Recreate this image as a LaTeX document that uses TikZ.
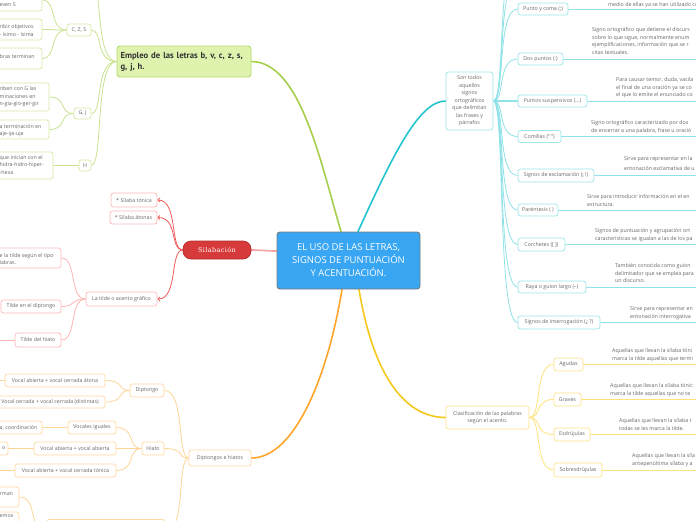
\documentclass[tikz,border=0pt]{standalone}
\usepackage{fontspec}
\setmainfont{Open Sans}
\newfontfamily\silfont{DejaVu Serif}[LetterSpace=6]
\newfontfamily\headfont{PT Sans}
\usetikzlibrary{arrows.meta}
\pgfdeclarelayer{back}
\pgfdeclarelayer{bg}
\pgfsetlayers{back,bg,main}
\definecolor{txt}{HTML}{666666}
\definecolor{gMain}{HTML}{A5CF4C}
\definecolor{gLink}{HTML}{C8E38F}
\definecolor{gBord}{HTML}{D4EBA5}
\definecolor{gFill}{HTML}{DFF3AE}
\definecolor{gFBord}{HTML}{B6DB6E}
\definecolor{rMain}{HTML}{F7A3A3}
\definecolor{rLink}{HTML}{F25A5A}
\definecolor{rLinkB}{HTML}{FFB5B5}
\definecolor{rBord}{HTML}{FFB9B9}
\definecolor{rFill}{HTML}{D63A3A}
\definecolor{rFBord}{HTML}{B32E2E}
\definecolor{oMain}{HTML}{FFA62B}
\definecolor{oLink}{HTML}{FFD596}
\definecolor{oBord}{HTML}{FFD9A0}
\definecolor{cMain}{HTML}{22C5CF}
\definecolor{cLink}{HTML}{8FE2E7}
\definecolor{cBord}{HTML}{9DE5EA}
\definecolor{yMain}{HTML}{F6C81B}
\definecolor{yLink}{HTML}{FFE27A}
\definecolor{yBord}{HTML}{FFE38C}
\definecolor{cenFill}{HTML}{39A6F4}
\definecolor{cenBord}{HTML}{7A7A7A}
\tikzset{
 box/.style={draw, fill=white, rounded corners=2.5pt, line width=0.7pt, text=txt, font=\fontsize{5.3}{7.5}\selectfont, inner sep=1pt, align=center},
 gbox/.style={box, draw=gBord},
 rbox/.style={box, draw=rBord},
 obox/.style={box, draw=oBord},
 cbox/.style={box, draw=cBord},
 ybox/.style={box, draw=yBord},
 lbl/.style={text=txt, font=\fontsize{5.3}{7.5}\selectfont, inner sep=0pt, align=left},
 dsc/.style={lbl, anchor=north west},
 sz/.style 2 args={minimum width=#1pt, minimum height=#2pt},
 lk/.style 2 args={out distance=#1pt, in distance=#2pt},
 mainlink/.style={line width=1.6pt, line cap=round},
 glink/.style={draw=gLink, line width=0.8pt},
 rlink/.style={draw=rLink, line width=0.8pt, -{Straight Barb[length=2pt,width=4pt]}},
 rlinkb/.style={draw=rLinkB, line width=0.8pt},
 olink/.style={draw=oLink, line width=0.8pt},
 clink/.style={draw=cLink, line width=0.8pt},
 ylink/.style={draw=yLink, line width=0.8pt},
}
\begin{document}
\begin{tikzpicture}[x=1pt,y=-1pt]
\useasboundingbox (0,0) rectangle (696,520);
\begin{pgfonlayer}{back}\fill[white] (0,0) rectangle (696,520);\end{pgfonlayer}
\coordinate (rt) at (705,0);
% central
\node[draw=cenBord, fill=cenFill, line width=0.9pt, rounded corners=3pt, text=white, font=\fontsize{9.5}{13}\selectfont, align=center, sz={143}{57}, inner sep=0pt] (cen) at (348.5,260.5) {EL USO DE LAS LETRAS,\\SIGNOS DE PUNTUACIÓN\\Y ACENTUACIÓN.};
% ---------- green
\node[draw=gFBord, fill=gFill, line width=0.9pt, rounded corners=3pt, text=black!80, font=\headfont\bfseries\fontsize{8.7}{11}\selectfont, align=left, text width=127pt, sz={134}{31}, inner sep=0pt] (gm) at (184,61.5) {Empleo de las letras b, v, c, z, s,\\g, j, h.};
\node[gbox, sz={24}{12}] (czs) at (79,30) {C, Z, S};
\node[gbox, sz={17}{11}] (gj) at (82.5,113.5) {G, J};
\node[gbox, sz={12}{11}] (h) at (85,165.5) {H};
\coordinate (gtop) at (91,-20);
\node[gbox, sz={52}{22}] (czs1) at (16,0) {};
\node[lbl, anchor=west] (czs1t) at (-0.5,5) {even S};
\node[gbox, sz={52}{21}] (czs2) at (16,29.5) {};
\node[lbl, anchor=west] (czs2t) at (-0.5,30.5) {ribir objetivos\\- ísimo - ísima};
\node[gbox, sz={52}{21}] (czs3) at (16,58.5) {};
\node[lbl, anchor=west] (czs3t) at (-0.5,57) {bras terminan};
\node[gbox, sz={59}{28}] (gj1) at (19.5,97) {};
\node[lbl, anchor=west] (gj1t) at (-0.5,97) {riben con G las\\minaciones en\\n-gia-gio-ger-gir};
\node[gbox, sz={59}{19}] (gj2) at (19.5,129.5) {};
\node[lbl, anchor=west] (gj2t) at (-0.5,130.5) {a terminación en\\aje-ije-uje};
\node[gbox, sz={63}{27}] (h1) at (21.5,165.5) {};
\node[lbl, anchor=west] (h1t) at (-0.5,165) {que inician con el\\hidra-hidro-hiper-\\-hexa};
% ---------- red
\node[draw=rFBord, fill=rFill, line width=0.7pt, rounded corners=8pt, text=white, font=\silfont\fontsize{6.5}{8}\selectfont, sz={68}{18}, inner sep=0pt] (sil) at (217,250) {Silabación};
\node[rbox, sz={46}{14}] (st) at (134,200) {* Sílaba tónica};
\node[rbox, sz={47}{13}] (sa) at (133.5,217.5) {* Sílaba átonas};
\node[rbox, sz={71}{14}] (lt) at (121.5,299) {La tilde o acento gráfico};
\node[rbox, sz={71}{20}] (lt1) at (25.5,258) {};
\node[lbl, anchor=west] (lt1t) at (-0.5,259) {e la tilde según el tipo\\labras.};
\node[rbox, sz={60}{13}] (lt2) at (31,306.5) {Tilde en el diptongo};
\node[rbox, sz={46}{14}] (lt3) at (38,340) {Tilde del hiato};
\coordinate (lt3x) at (-10,340);
% ---------- orange
\node[obox, sz={62}{16}] (dh) at (220,458) {Diptongos e hiatos};
\node[obox, sz={34}{13}] (dip) at (147,390.5) {Diptongo};
\node[obox, sz={22}{13}] (hia) at (153,448.5) {Hiato};
\node[obox, sz={118}{25}] (ob3) at (106,532) {};
\node[obox, sz={100}{13}] (d1) at (55,380.5) {Vocal abierta + vocal cerrada átona};
\coordinate (d1x) at (-10,380.5);
\node[obox, sz={110}{12}] (d2) at (50,402) {Vocal cerrada + vocal cerrada (distintas)};
\node[obox, sz={48}{13}] (h1n) at (92,427.5) {Vocales iguales};
\node[obox, sz={82}{13}] (h2n) at (75,448.5) {Vocal abierta + vocal abierta};
\node[obox, sz={101}{13}] (h3n) at (65.5,470.5) {Vocal abierta + vocal cerrada tónica};
\coordinate (h3x) at (-10,470.5);
\node[obox, sz={52}{13}] (hc) at (16,427.5) {};
\node[lbl, anchor=west] (hct) at (-0.5,427.5) {a, coordinación};
\node[obox, sz={18}{13}] (ho) at (-1,448.5) {};
\node[lbl, anchor=east] (hot) at (5.5,448.5) {o};
\node[obox, sz={29}{20}] (rman) at (4.5,497) {};
\node[lbl, anchor=west] (rmant) at (-0.5,494) {rman};
\node[obox, sz={29}{20}] (emos) at (4.5,522) {};
\node[lbl, anchor=west] (emost) at (-0.5,516.5) {emos};
% ---------- cyan
\node[cbox, sz={47}{58}] (stn) at (469.5,101) {Son todos\\aquellos\\signos\\ortográficos\\que delimitan\\las frases y\\párrafos};
\coordinate (ct1) at (518,-22);
\coordinate (ct2) at (518,-48);
\node[cbox, sz={50}{12}] (pyc) at (543,9) {Punto y coma (;)};
\node[cbox, sz={45}{12}] (dp) at (540.5,59) {Dos puntos (:)};
\node[cbox, sz={69}{12}] (ps) at (552.5,101) {Puntos suspensivos (...)};
\node[cbox, sz={43}{12}] (com) at (539.5,136.5) {Comillas (“ ”)};
\node[cbox, sz={76}{13}] (exc) at (556,175.5) {Signos de exclamación (¡ !)};
\node[cbox, sz={40}{12}] (par) at (538,210) {Paréntesis ( )};
\node[cbox, sz={47}{13}] (cor) at (541.5,244.5) {Corchetes ([ ])};
\node[cbox, sz={68}{12}] (ray) at (552,287) {Raya o guion largo (–)};
\node[cbox, sz={82}{13}] (int) at (559,322.5) {Signos de interrogación (¿ ?)};
\node[dsc] (pycd) at (608,2) {medio de ellas ya se han utilizado com};
\node[dsc] (dpd) at (592,27.5) {Signo ortográfico que detiene el discurs\\sobre lo que sigue, normalmente enum\\ejemplificaciones, información que se r\\citas textuales.};
\node[dsc] (psd) at (616,77.5) {Para causar temor, duda, vacila\\el final de una oración ya se co\\el que lo emite el enunciado co};
\node[dsc] (comd) at (591,120.5) {Signo ortográfico caracterizado por dos\\de encerrar a una palabra, frase u oració};
\node[dsc] (excd) at (624,156.5) {Sirve para representar en la\\[2.5pt]entonación exclamativa de u};
\node[dsc] (pard) at (587,194.5) {Sirve para introducir información en el en\\estructura.};
\node[dsc] (cord) at (595,228.5) {Signos de puntuación y agrupación ort\\características se igualan a las de los pa};
\node[dsc] (rayd) at (615,263.5) {También conocida como guion\\delimitador que se emplea para\\un discurso.};
\node[dsc] (intd) at (630,306.5) {Sirve para representar en\\entonación interrogativa};
% ---------- yellow
\node[ybox, sz={83}{23}] (cla) at (487.5,417.5) {Clasificación de las palabras\\según el acento.};
\node[ybox, sz={29}{13}] (agu) at (568.5,364.5) {Agudas};
\node[ybox, sz={27}{13}] (gra) at (567.5,399.5) {Graves};
\node[ybox, sz={36}{13}] (esd) at (572,434.5) {Esdrújulas};
\node[ybox, sz={48}{14}] (sob) at (578,470) {Sobresdrújulas};
\node[dsc] (agud) at (612,348.5) {Aquellas que llevan la sílaba tóni\\marca la tilde aquellas que termi};
\node[dsc] (grad) at (610,383.5) {Aquellas que llevan la sílaba tónic\\marca la tilde aquellas que no te};
\node[dsc] (esdd) at (619,418.5) {Aquellas que llevan la sílaba t\\todas se les marca la tilde.};
\node[dsc] (sobd) at (632,453.5) {Aquellas que llevan la síla\\antepenúltima sílaba y a};
% ---------- connectors
\begin{pgfonlayer}{bg}
\draw[mainlink, draw=gMain] ([xshift=-7.5pt]cen.north) .. controls (320,160) and (300,62) .. (gm.east);
\foreach \c in {gtop, czs.east, gj.east, h.east}
  \draw[glink] (gm.west) to[out=180,in=0,lk={22}{12}] (\c);
\foreach \c in {czs1.east, czs2.east, czs3.east}
  \draw[glink] (czs.west) to[out=180,in=0,lk={18}{15}] (\c);
\foreach \c in {gj1.east, gj2.east}
  \draw[glink] (gj.west) to[out=180,in=0,lk={15}{18}] (\c);
\draw[glink] (h.west) -- (h1.east);
\draw[mainlink, draw=rMain] ([yshift=9.5pt]cen.west) to[out=180,in=0] (sil.east);
\foreach \c in {st.east, sa.east, lt.east}
  \draw[rlink] (sil.west) to[out=180,in=0,lk={13}{21}] (\c);
\foreach \c in {lt1.east, lt2.east, lt3.east}
  \draw[rlinkb] (lt.west) to[out=180,in=0,lk={17}{16}] (\c);
\draw[rlinkb] (lt3.west) -- (lt3x);
\draw[mainlink, draw=oMain] ([xshift=-6.5pt]cen.south) .. controls (328,375) and (295,458) .. (dh.east);
\foreach \c in {dip.east, hia.east, ob3.east}
  \draw[olink] (dh.west) to[out=180,in=0,lk={12}{21}] (\c);
\foreach \c in {d1.east, d2.east}
  \draw[olink] (dip.west) to[out=180,in=0,lk={13}{20}] (\c);
\foreach \c in {h1n.east, h3n.east}
  \draw[olink] (hia.west) to[out=180,in=0,lk={15}{20}] (\c);
\draw[olink, line width=1.6pt] (hia.west) -- (h2n.east);
\draw[olink] (d1.west) -- (d1x);
\draw[olink] (h1n.west) -- (hc.east);
\draw[olink, line width=1.6pt] (h2n.west) -- (ho.east);
\draw[olink] (h3n.west) -- (h3x);
\foreach \c in {rman.east, emos.east}
  \draw[olink] (ob3.west) to[out=180,in=0,lk={19}{19}] (\c);
\draw[mainlink, draw=cMain] ([xshift=9.5pt]cen.north) .. controls (395,150) and (420,101) .. (stn.west);
\foreach \c in {ct1, ct2, pyc.west, dp.west, com.west, exc.west, par.west, cor.west, ray.west, int.west}
  \draw[clink] (stn.east) to[out=0,in=180,lk={12}{21}] (\c);
\draw[clink, line width=1.6pt] (stn.east) -- (ps.west);
\foreach \c in {pyc, dp, ps, com, exc, par, cor, ray, int}
  \draw[clink] (\c.east) -- (\c.east -| rt);
\draw[mainlink, draw=yMain] ([xshift=10.5pt]cen.south) .. controls (375,385) and (410,417.5) .. (cla.west);
\foreach \c in {agu, gra, esd, sob} {
  \draw[ylink] (cla.east) to[out=0,in=180,lk={13}{20}] (\c.west);
  \draw[ylink] (\c.east) -- (\c.east -| rt);
}
\end{pgfonlayer}
\end{tikzpicture}
\end{document}
